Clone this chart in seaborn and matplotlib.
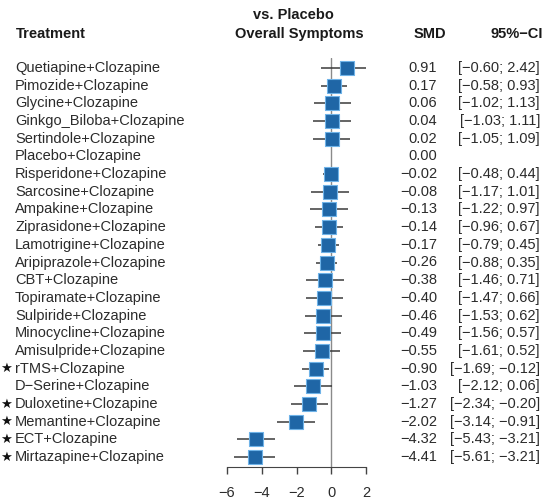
import numpy as np
import pandas as pd
import seaborn as sns
import matplotlib.pyplot as plt
from matplotlib.transforms import blended_transform_factory

treatments = ["Quetiapine+Clozapine", "Pimozide+Clozapine", "Glycine+Clozapine",
              "Ginkgo_Biloba+Clozapine", "Sertindole+Clozapine", "Placebo+Clozapine",
              "Risperidone+Clozapine", "Sarcosine+Clozapine", "Ampakine+Clozapine",
              "Ziprasidone+Clozapine", "Lamotrigine+Clozapine", "Aripiprazole+Clozapine",
              "CBT+Clozapine", "Topiramate+Clozapine", "Sulpiride+Clozapine",
              "Minocycline+Clozapine", "Amisulpride+Clozapine", "rTMS+Clozapine",
              "D\u2212Serine+Clozapine", "Duloxetine+Clozapine", "Memantine+Clozapine",
              "ECT+Clozapine", "Mirtazapine+Clozapine"]
smd = [0.91, 0.17, 0.06, 0.04, 0.02, 0.00, -0.02, -0.08, -0.13, -0.14, -0.17, -0.26,
       -0.38, -0.40, -0.46, -0.49, -0.55, -0.90, -1.03, -1.27, -2.02, -4.32, -4.41]
lower = [-0.60, -0.58, -1.02, -1.03, -1.05, np.nan, -0.48, -1.17, -1.22, -0.96, -0.79, -0.88,
         -1.46, -1.47, -1.53, -1.56, -1.61, -1.69, -2.12, -2.34, -3.14, -5.43, -5.61]
upper = [2.42, 0.93, 1.13, 1.11, 1.09, np.nan, 0.44, 1.01, 0.97, 0.67, 0.45, 0.35,
         0.71, 0.66, 0.62, 0.57, 0.52, -0.12, 0.06, -0.20, -0.91, -3.21, -3.21]
starred = ["rTMS+Clozapine", "Duloxetine+Clozapine", "Memantine+Clozapine",
           "ECT+Clozapine", "Mirtazapine+Clozapine"]
xticks = [-6, -4, -2, 0, 2]

df = pd.DataFrame({"treatment": treatments, "smd": smd, "lower": lower, "upper": upper})
df["row"] = np.arange(len(df))
est = df[df["lower"].notna()]

sns.set_style("white")
plt.rcParams["font.family"] = ["Liberation Sans", "DejaVu Sans"]
txt_col = "#2b2b2b"
fs = 10.5


def neg(s):
    return s.replace("-", "\u2212")


W, H = 549, 503
fig = plt.figure(figsize=(W / 100, H / 100), dpi=100)
ax = fig.add_axes([227 / W, 1 - 467 / H, 139 / W, 409 / H])

n = len(df)
ax.set_ylim(n - 1 + 0.566, -0.566)
ax.set_xlim(-6, 2)

# reference line at zero
ax.axvline(0, color="#8a8a8a", lw=1, zorder=1)

# confidence intervals
ax.hlines(est["row"], est["lower"], est["upper"], color="#3a3a3a", lw=1.1, zorder=2)

# point estimates
sns.scatterplot(data=est, x="smd", y="row", marker="s", s=100, color="#1f66a6",
                edgecolor="#6fb3e8", linewidth=0.8, zorder=3, ax=ax, legend=False)

ax.set_xlabel("")
ax.set_ylabel("")
ax.set_yticks([])
ax.set_xticks(xticks)
ax.set_xticklabels([neg(str(t)) for t in xticks], fontsize=fs, color=txt_col)
for s in ["top", "right", "left"]:
    ax.spines[s].set_visible(False)
ax.spines["bottom"].set_bounds(-6, 2)
ax.spines["bottom"].set_color("#444444")
ax.tick_params(axis="x", direction="out", length=5, width=1, color="#444444", pad=9, bottom=True)

tr = blended_transform_factory(fig.transFigure, ax.transData)
for _, r in df.iterrows():
    y = r["row"]
    fig.text(15 / W, y, r["treatment"], transform=tr, ha="left", va="center",
             fontsize=fs, color=txt_col)
    if r["treatment"] in starred:
        fig.text(6 / W, y, "\u2605", transform=tr, ha="center", va="center",
                 fontsize=9.5, color="#111111", family=["DejaVu Sans"])
    fig.text(437 / W, y, neg(f"{r['smd']:.2f}"), transform=tr,
             ha="right", va="center", fontsize=fs, color=txt_col)
    if not np.isnan(r["lower"]):
        fig.text(540 / W, y, neg(f"[{r['lower']:.2f}; {r['upper']:.2f}]"), transform=tr,
                 ha="right", va="center", fontsize=fs, color=txt_col)

# headers
hdr = dict(fontsize=10.5, color="#1a1a1a", fontweight="bold", va="center")
fig.text(16 / W, 1 - 34 / H, "Treatment", ha="left", **hdr)
fig.text(293 / W, 1 - 15 / H, "vs. Placebo", ha="center", **hdr)
fig.text(299 / W, 1 - 34 / H, "Overall Symptoms", ha="center", **hdr)
fig.text(446 / W, 1 - 34 / H, "SMD", ha="right", **hdr)
fig.text(543 / W, 1 - 34 / H, neg("95%-CI"), ha="right", **hdr)

fig.savefig("out.png", dpi=100)
